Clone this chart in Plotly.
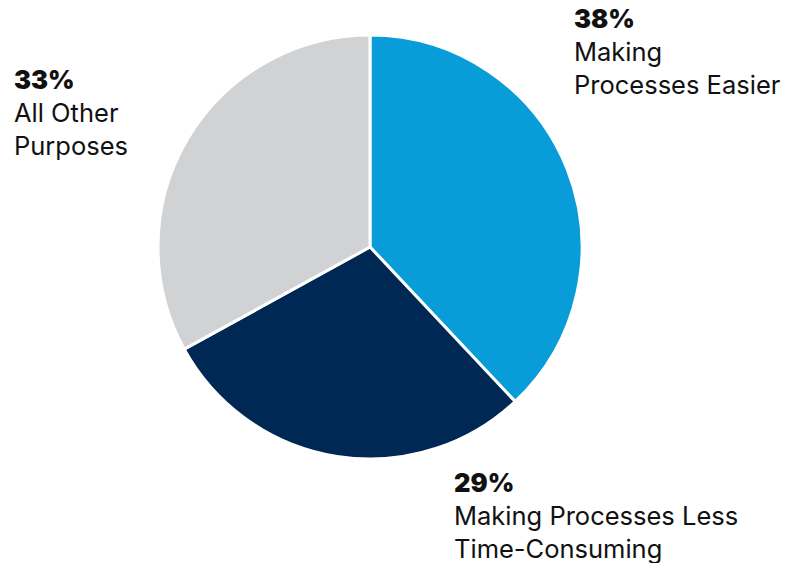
import plotly.graph_objects as go

# Share of uses, in drawing order (clockwise from 12 o'clock)
labels = ["Making Processes Easier", "Making Processes Less Time-Consuming", "All Other Purposes"]
values = [38, 29, 33]
colors = ["#089dd9", "#002855", "#d1d2d4"]

# Text shown next to each slice
label_lines = [["Making", "Processes Easier"],
               ["Making Processes Less", "Time-Consuming"],
               ["All Other", "Purposes"]]
label_pos = [(572, 1), (452, 465), (12, 62)]  # pixel anchors (left, top)

W, H = 785, 563

fig = go.Figure(go.Pie(
    labels=labels,
    values=values,
    sort=False,
    direction="clockwise",
    rotation=0,
    marker=dict(colors=colors, line=dict(color="white", width=3)),
    textinfo="none",
    hoverinfo="label+percent",
    showlegend=False,
    domain=dict(x=[158 / W, 582 / W], y=[1 - 459 / H, 1 - 35 / H]),
))

for v, lines, (px, py) in zip(values, label_lines, label_pos):
    text = f"<span style='font-weight:900'>{v}%</span><br>" + "<br>".join(lines)
    fig.add_annotation(
        text=text,
        xref="paper", yref="paper",
        x=px / W, y=1 - py / H,
        xanchor="left", yanchor="top",
        align="left",
        showarrow=False,
        font=dict(family="Inter, Roboto, sans-serif", size=25.5, color="#111111"),
    )

fig.update_layout(
    width=W, height=H,
    margin=dict(l=0, r=0, t=0, b=0),
    paper_bgcolor="white",
    plot_bgcolor="white",
)

fig.write_html("out.html")
